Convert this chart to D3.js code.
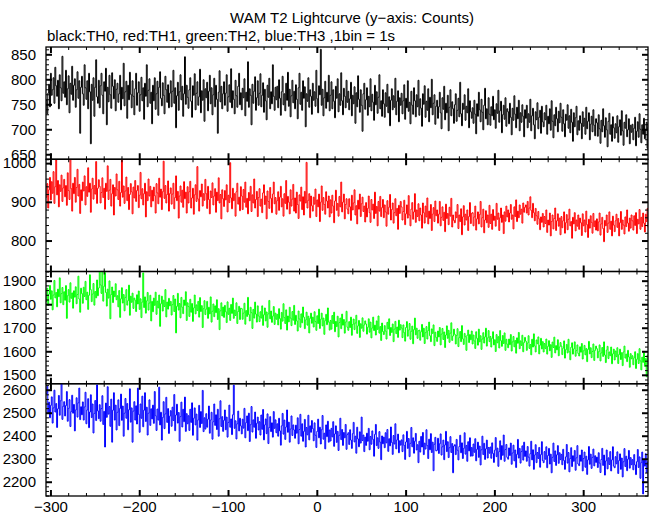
<!DOCTYPE html>
<html>
<head>
<meta charset="utf-8">
<script src="https://cdn.jsdelivr.net/npm/d3@7"></script>
<style>
  html, body { margin: 0; padding: 0; background: #fff; }
  svg { display: block; }
  text { font-family: "Liberation Sans", Arial, Helvetica, sans-serif; }
</style>
</head>
<body>
<svg id="chart" width="652" height="515"></svg>
<script>
// ---------- data ----------
const titleText = "WAM T2 Lightcurve (y\u2212axis: Counts)";
const subtitleText = "black:TH0, red:TH1, green:TH2, blue:TH3 ,1bin = 1s";
const timeStart = -305;   // start of first 1 s bin
const binWidth = 1;
const xDomain = [-305, 373];
const xMajorTicks = [-300, -200, -100, 0, 100, 200, 300];
const xMinorStep = 20;

const seriesNames = ["TH0", "TH1", "TH2", "TH3"];
const seriesColors = ["#000000", "#ff0000", "#00ff00", "#0000ff"];
const yDomains = [[640, 864.6], [720, 1010], [1462, 1939], [2138, 2626]];
const yMajorTicks = [
  [650, 700, 750, 800, 850],
  [800, 900, 1000],
  [1500, 1600, 1700, 1800, 1900],
  [2200, 2300, 2400, 2500, 2600]
];
const yMinorSteps = [10, 20, 20, 20];

const th0 = [
758,731,772,790,745,812,768,779,803,752,824,787,766,798,741,809,783,757,846,772,
795,764,818,749,781,807,733,792,770,826,758,788,801,744,779,815,762,797,692,784,
806,771,748,829,783,760,797,741,812,775,671,790,758,803,726,784,839,765,752,798,
743,787,812,768,731,795,776,822,709,784,755,808,769,742,813,786,761,799,737,780,
792,754,771,808,739,784,761,832,747,775,796,722,788,759,814,770,743,797,766,729,
781,812,748,773,795,736,769,804,757,783,720,792,766,829,745,778,801,752,774,711,
788,757,803,740,771,796,728,784,815,762,747,793,768,731,806,779,754,789,743,772,
797,745,776,818,752,783,703,767,794,738,775,809,759,786,726,771,845,750,788,764,
742,779,803,756,724,787,768,811,739,772,795,748,765,820,733,777,758,799,716,781,
763,794,737,776,808,751,783,729,769,802,745,788,760,692,774,817,755,786,741,771,
795,748,772,809,736,765,789,754,821,743,777,760,731,798,767,744,786,812,749,773,
739,782,763,801,727,774,756,835,744,781,768,709,790,752,776,805,738,763,797,748,
772,811,745,768,793,734,780,757,719,788,764,802,741,775,751,829,766,738,784,759,
786,743,799,762,728,775,806,749,771,737,792,758,814,746,780,725,767,798,753,776,
741,789,760,721,783,812,750,774,738,797,762,785,705,771,756,803,744,779,766,730,
792,758,775,746,818,761,733,787,769,860,748,780,727,763,796,742,774,755,808,737,
768,795,741,779,756,723,786,762,801,735,771,748,813,757,729,782,766,743,798,754,
776,739,761,794,727,768,751,785,712,773,745,807,760,734,779,748,696,771,792,740,
759,783,728,766,745,801,737,770,754,718,788,749,775,732,764,809,741,757,726,779,
751,724,773,746,790,733,765,707,758,781,739,767,744,802,729,756,777,715,763,748,
772,731,757,789,720,762,743,797,736,754,711,776,748,730,783,757,725,769,745,798,
728,761,742,706,771,750,787,724,756,738,781,715,764,743,800,729,752,769,710,746,
758,722,745,774,733,701,763,740,786,719,752,733,768,697,744,779,727,755,741,712,
749,771,716,738,762,725,794,731,707,752,740,769,718,746,733,781,703,757,735,722,
743,712,758,730,691,751,726,774,739,715,760,734,699,748,782,721,741,709,763,730,
708,745,727,766,719,739,702,751,732,778,714,737,756,693,729,748,720,763,706,741,
735,711,752,724,689,742,718,767,730,703,744,721,758,697,733,714,749,726,685,739,
722,748,703,731,714,760,697,727,742,709,681,735,719,753,701,724,738,692,746,715,
705,733,719,748,690,726,711,741,698,757,716,683,729,707,744,721,695,736,713,752,
724,696,739,711,685,730,718,749,702,727,693,740,714,676,733,705,723,746,689,717,
698,727,712,681,735,706,722,690,744,701,716,733,679,710,726,695,739,708,687,721,
713,686,729,701,672,718,695,741,707,684,723,699,665,716,732,690,709,676,725,703,
682,711,693,727,674,705,719,688,737,697,668,714,702,729,685,699,721,671,708,694,
710,679,702,724,667,696,715,684,731,700,673,709,690,722,681,698,714,662,705,689
];

const th1 = [
912,947,884,931,963,905,952,922,978,896,939,1008,918,955,887,944,927,969,901,936,
958,913,942,891,975,929,906,1012,934,876,948,921,963,899,937,984,915,945,870,931,
903,951,928,967,892,939,914,988,925,948,873,933,961,907,942,920,1004,896,935,957,
940,897,924,962,911,935,881,948,927,993,906,930,958,889,921,944,866,937,915,972,
931,906,953,889,924,1015,912,941,896,928,964,903,937,880,919,947,926,869,938,910,
955,901,929,942,885,917,976,908,934,892,921,948,861,926,903,959,915,940,887,930,
902,938,916,871,947,923,895,961,912,933,880,926,1005,909,942,897,919,954,876,921,
936,894,920,948,882,911,967,903,927,858,915,941,899,930,886,952,908,925,871,939,
897,926,953,884,910,935,868,918,944,901,991,907,876,929,913,946,889,921,904,958,
921,883,940,906,869,928,911,949,892,915,934,873,925,903,962,897,919,856,931,908,
888,929,905,944,874,917,898,1001,910,882,935,903,921,863,926,948,894,912,877,939,
915,880,932,899,951,886,909,869,924,903,940,875,918,897,959,884,906,927,862,911,
934,889,907,872,923,944,893,915,856,928,901,883,937,909,872,920,951,895,911,868,
903,926,878,912,940,887,908,863,921,896,955,881,914,899,869,931,889,907,945,876,
910,871,925,893,857,918,902,938,880,913,866,927,897,1002,884,904,921,859,915,890,
876,912,894,933,862,905,887,920,849,899,941,878,911,893,868,926,902,884,915,861,
905,871,917,889,846,902,930,878,896,863,914,887,951,874,899,920,856,893,908,881,
869,908,887,852,917,879,897,931,866,890,843,904,881,920,862,895,912,875,889,848,
898,861,883,915,872,847,906,879,894,857,925,870,888,838,901,876,914,862,885,906,
859,892,874,837,903,868,886,919,853,880,897,845,872,908,864,883,829,891,870,901,
887,853,875,904,841,869,892,858,916,866,838,881,898,855,874,921,847,879,862,895,
851,884,866,832,897,872,845,889,861,910,843,876,857,893,826,868,885,849,902,864,
879,845,868,901,838,860,887,852,873,823,894,857,870,841,886,863,909,835,866,852,
846,874,859,893,831,866,849,882,815,861,890,840,868,853,879,826,862,898,844,870,
872,838,861,889,827,856,874,843,867,901,835,859,881,820,853,877,846,866,834,891,
844,868,829,880,852,863,837,896,855,871,826,859,884,847,866,818,874,850,889,861,
879,848,871,893,855,866,830,887,862,905,849,876,859,892,868,881,845,897,873,886,
892,871,901,866,884,913,878,859,896,872,851,883,864,842,875,856,828,861,847,870,
835,862,844,879,821,853,840,871,812,849,866,830,857,884,826,851,869,837,858,815,
862,833,851,874,819,846,867,828,855,881,838,849,806,860,843,872,825,853,837,866,
829,858,846,813,869,838,853,822,876,841,808,855,832,864,847,819,870,836,851,827,
856,825,848,871,814,843,860,831,797,852,838,866,821,845,874,829,850,812,863,840,
823,851,868,834,857,812,846,875,829,853,840,817,861,836,879,845,824,858,832,866,
851,827,864,839,872,818,855,843,880,829,860,836,871,845,822,868,849,883,834,857
];

const th2 = [
1812,1868,1795,1843,1880,1821,1857,1776,1839,1901,1827,1850,1789,1864,1832,1912,1806,1845,1871,1798,
1853,1817,1879,1740,1836,1862,1809,1891,1825,1848,1783,1857,1830,1874,1802,1841,1919,1822,1766,1868,
1845,1804,1872,1833,1897,1819,1851,1778,1838,1925,1862,1811,1843,1888,1796,1854,1827,1903,1836,1869,
1941,1882,1846,1938,1813,1876,1935,1850,1792,1864,1826,1899,1738,1841,1873,1807,1856,1832,1887,1819,
1836,1789,1858,1744,1823,1870,1805,1841,1772,1829,1862,1796,1815,1881,1753,1834,1808,1847,1782,1826,
1817,1769,1840,1801,1856,1778,1823,1743,1809,1933,1786,1831,1762,1814,1850,1775,1805,1838,1729,1812,
1768,1826,1795,1851,1757,1813,1784,1839,1706,1802,1834,1771,1817,1790,1862,1746,1809,1779,1825,1793,
1812,1754,1798,1837,1769,1822,1678,1791,1846,1775,1803,1742,1829,1787,1760,1818,1795,1853,1731,1806,
1790,1748,1821,1766,1803,1727,1784,1839,1759,1797,1773,1812,1745,1828,1769,1794,1701,1781,1815,1756,
1779,1812,1740,1787,1759,1831,1724,1770,1801,1747,1793,1764,1819,1735,1781,1692,1772,1806,1750,1788,
1744,1795,1768,1722,1810,1757,1783,1731,1799,1761,1826,1740,1775,1752,1806,1718,1769,1791,1735,1783,
1781,1736,1762,1804,1715,1773,1748,1829,1756,1729,1787,1764,1697,1778,1741,1809,1758,1724,1793,1750,
1726,1768,1741,1793,1710,1755,1784,1729,1767,1702,1759,1816,1738,1771,1723,1749,1790,1714,1762,1736,
1757,1712,1781,1739,1694,1765,1728,1802,1743,1718,1776,1690,1750,1725,1787,1741,1709,1769,1732,1795,
1714,1753,1729,1686,1771,1737,1702,1759,1721,1788,1745,1696,1733,1766,1711,1749,1678,1740,1762,1719,
1745,1703,1768,1726,1689,1751,1718,1779,1697,1736,1762,1708,1741,1672,1730,1757,1713,1784,1724,1690,
1731,1694,1752,1718,1766,1683,1727,1705,1749,1661,1722,1741,1696,1758,1711,1735,1677,1724,1770,1702,
1689,1726,1701,1745,1668,1714,1737,1692,1720,1753,1676,1708,1731,1659,1717,1698,1742,1685,1712,1729,
1716,1673,1702,1738,1681,1724,1657,1699,1745,1688,1711,1669,1729,1693,1750,1677,1705,1646,1720,1684,
1671,1709,1686,1652,1723,1695,1738,1667,1701,1680,1716,1641,1694,1727,1675,1703,1659,1732,1690,1713,
1699,1658,1712,1679,1643,1701,1726,1664,1690,1718,1651,1685,1707,1632,1692,1741,1670,1698,1655,1687,
1690,1647,1683,1714,1661,1698,1633,1679,1705,1652,1688,1724,1666,1641,1695,1676,1712,1624,1681,1659,
1642,1686,1661,1701,1627,1673,1697,1650,1682,1616,1669,1708,1655,1689,1638,1677,1721,1646,1665,1694,
1672,1631,1667,1696,1620,1658,1684,1641,1709,1653,1629,1676,1662,1604,1668,1690,1637,1671,1649,1686,
1631,1669,1644,1612,1683,1655,1626,1694,1640,1666,1608,1652,1679,1635,1661,1698,1622,1657,1688,1641,
1663,1618,1655,1683,1627,1649,1599,1671,1636,1662,1614,1688,1645,1621,1667,1633,1678,1604,1651,1630,
1615,1652,1628,1671,1601,1640,1663,1619,1646,1592,1657,1634,1680,1611,1644,1625,1668,1598,1637,1659,
1643,1604,1635,1666,1612,1629,1585,1651,1618,1674,1623,1597,1648,1632,1661,1589,1626,1655,1610,1641,
1597,1633,1611,1652,1588,1621,1645,1602,1628,1574,1639,1616,1660,1593,1624,1606,1649,1581,1618,1637,
1622,1586,1613,1644,1571,1607,1629,1593,1651,1598,1564,1617,1636,1588,1610,1640,1579,1603,1627,1591,
1580,1619,1596,1633,1567,1602,1625,1585,1612,1556,1608,1642,1589,1615,1573,1599,1631,1561,1604,1622,
1611,1572,1598,1627,1559,1593,1616,1578,1640,1584,1552,1605,1621,1569,1597,1581,1618,1547,1589,1609,
1563,1601,1577,1615,1548,1586,1609,1565,1594,1539,1597,1622,1571,1588,1556,1604,1576,1532,1590,1568,
1581,1543,1572,1598,1527,1566,1590,1548,1611,1559,1521,1575,1553,1594,1536,1569,1492,1584,1547,1561
];

const th3 = [
2583,2614,2497,2546,2478,2532,2569,2455,2521,2598,2503,2540,2436,2517,2575,2489,2552,2629,2471,2528,
2548,2486,2531,2592,2463,2519,2557,2440,2505,2576,2498,2536,2421,2512,2565,2481,2543,2607,2470,2526,
2491,2547,2468,2525,2589,2452,2512,2561,2435,2503,2578,2479,2538,2412,2497,2553,2466,2621,2508,2474,
2535,2463,2518,2574,2449,2506,2351,2542,2480,2613,2494,2527,2441,2559,2372,2511,2587,2468,2533,2425,
2502,2556,2444,2519,2581,2467,2529,2398,2498,2562,2476,2540,2426,2513,2604,2459,2521,2372,2507,2548,
2468,2530,2451,2607,2493,2415,2538,2476,2572,2439,2511,2587,2462,2524,2403,2498,2556,2445,2517,2473,
2533,2454,2592,2487,2423,2516,2468,2611,2447,2502,2381,2479,2548,2431,2495,2567,2458,2518,2410,2485,
2509,2441,2524,2466,2579,2422,2490,2537,2455,2501,2376,2483,2546,2438,2515,2461,2568,2419,2496,2452,
2487,2423,2515,2458,2543,2402,2476,2521,2447,2494,2381,2469,2532,2436,2505,2453,2597,2418,2478,2429,
2496,2437,2472,2529,2411,2468,2502,2385,2461,2538,2445,2491,2427,2515,2398,2474,2552,2440,2483,2419,
2467,2512,2426,2481,2394,2458,2533,2437,2473,2405,2491,2620,2432,2465,2386,2452,2507,2421,2476,2443,
2408,2472,2433,2519,2391,2457,2486,2422,2498,2375,2448,2527,2416,2469,2437,2503,2389,2454,2481,2425,
2461,2403,2490,2428,2514,2382,2447,2473,2409,2495,2366,2436,2483,2418,2456,2394,2505,2432,2469,2413,
2452,2398,2476,2421,2359,2443,2497,2407,2468,2384,2438,2512,2415,2459,2372,2429,2486,2401,2447,2425,
2389,2446,2411,2478,2365,2427,2493,2398,2452,2376,2419,2471,2351,2436,2404,2489,2382,2443,2415,2466,
2431,2378,2456,2402,2349,2419,2472,2391,2437,2364,2426,2488,2385,2411,2343,2447,2396,2463,2372,2425,
2377,2432,2395,2461,2354,2408,2443,2371,2419,2336,2402,2476,2383,2427,2358,2414,2391,2449,2341,2405,
2413,2362,2426,2381,2345,2409,2458,2373,2398,2324,2437,2386,2352,2417,2368,2481,2379,2403,2331,2394,
2358,2411,2376,2432,2339,2397,2363,2421,2384,2311,2406,2449,2357,2391,2345,2418,2372,2296,2399,2365,
2394,2348,2413,2369,2427,2332,2387,2356,2438,2371,2319,2401,2364,2452,2343,2382,2407,2326,2378,2359,
2382,2331,2404,2358,2297,2373,2419,2345,2388,2309,2367,2436,2352,2391,2324,2376,2410,2338,2361,2283,
2376,2329,2397,2351,2414,2318,2368,2342,2426,2357,2301,2385,2339,2409,2327,2372,2248,2363,2393,2334,
2337,2389,2323,2365,2408,2316,2352,2381,2296,2360,2419,2331,2374,2305,2348,2396,2327,2366,2239,2355,
2361,2318,2384,2337,2295,2353,2402,2326,2369,2301,2345,2413,2320,2358,2289,2374,2334,2391,2311,2349,
2312,2364,2328,2387,2291,2341,2372,2306,2355,2273,2339,2398,2318,2367,2297,2343,2381,2303,2349,2324,
2351,2302,2369,2323,2284,2337,2392,2309,2346,2267,2331,2378,2296,2357,2315,2403,2289,2340,2362,2306,
2298,2347,2314,2368,2276,2325,2359,2291,2338,2262,2319,2384,2303,2345,2281,2331,2356,2294,2372,2310,
2334,2289,2353,2307,2268,2322,2376,2295,2339,2254,2316,2361,2283,2327,2301,2349,2263,2318,2374,2292,
2283,2331,2298,2352,2261,2314,2345,2277,2320,2239,2306,2368,2288,2334,2271,2317,2357,2280,2326,2296,
2319,2274,2341,2292,2254,2308,2362,2281,2327,2243,2301,2348,2266,2313,2289,2336,2250,2304,2357,2277,
2270,2316,2289,2338,2247,2301,2329,2263,2311,2232,2295,2353,2276,2320,2258,2306,2342,2269,2313,2284,
2307,2262,2326,2281,2240,2297,2345,2271,2316,2229,2290,2338,2256,2304,2275,2331,2247,2295,2352,2268,
2261,2309,2278,2330,2236,2292,2321,2254,2303,2221,2287,2344,2266,2311,2248,2298,2336,2259,2305,2274,
2296,2252,2318,2273,2231,2287,2340,2262,2308,2215,2283,2329,2147,2294,2268,2322,2240,2286,2201,2264
];

const seriesValues = [th0, th1, th2, th3];

// ---------- layout ----------
const W = 652, H = 515;
const plotLeft = 46, plotRight = 648;
const panelTop0 = 47, panelH = 112.25;
const fontSize = 15;

const svg = d3.select("#chart");
svg.append("rect").attr("width", W).attr("height", H).attr("fill", "#fff");

const x = d3.scaleLinear().domain(xDomain).range([plotLeft, plotRight]);
const xMinorTicks = d3.range(-300, 373, xMinorStep).filter(t => !xMajorTicks.includes(t));

svg.append("text").attr("x", 352).attr("y", 23).attr("text-anchor", "middle")
  .attr("font-size", fontSize).text(titleText);
svg.append("text").attr("x", 47).attr("y", 41).attr("text-anchor", "start")
  .attr("font-size", fontSize).text(subtitleText);

seriesValues.forEach((vals, k) => {
  const top = panelTop0 + k * panelH;
  const bot = top + panelH;
  const y = d3.scaleLinear().domain(yDomains[k]).range([bot, top]);
  const g = svg.append("g");

  const clipId = "clip" + k;
  svg.append("clipPath").attr("id", clipId).append("rect")
    .attr("x", plotLeft).attr("y", top).attr("width", plotRight - plotLeft).attr("height", panelH);

  const pts = vals.map((v, i) => [timeStart + i * binWidth, v]);
  pts.push([timeStart + vals.length * binWidth, vals[vals.length - 1]]);
  const line = d3.line().x(d => x(d[0])).y(d => y(d[1])).curve(d3.curveStepAfter);
  g.append("path").attr("d", line(pts)).attr("fill", "none")
    .attr("stroke", seriesColors[k]).attr("stroke-width", 1)
    .attr("clip-path", `url(#${clipId})`);

  // frame
  g.append("rect").attr("x", plotLeft).attr("y", top).attr("width", plotRight - plotLeft)
    .attr("height", panelH).attr("fill", "none").attr("stroke", "#000").attr("stroke-width", 1.3);

  // y axes (left labeled, right mirror)
  const [d0, d1] = yDomains[k];
  const yMinor = d3.range(Math.ceil(d0 / yMinorSteps[k]) * yMinorSteps[k], d1, yMinorSteps[k])
    .filter(v => !yMajorTicks[k].includes(v));

  const left = g.append("g").attr("transform", `translate(${plotLeft},0)`)
    .call(d3.axisLeft(y).tickValues(yMajorTicks[k]).tickSize(-6).tickPadding(10).tickFormat(d3.format("d")));
  left.select(".domain").remove();
  left.selectAll("line").attr("stroke-width", 2);
  left.selectAll("text").attr("font-size", fontSize).attr("font-family", null).attr("fill", "#000");
  const leftMinor = g.append("g").attr("transform", `translate(${plotLeft},0)`)
    .call(d3.axisLeft(y).tickValues(yMinor).tickSize(-3).tickFormat(""));
  leftMinor.select(".domain").remove();

  const right = g.append("g").attr("transform", `translate(${plotRight},0)`)
    .call(d3.axisRight(y).tickValues(yMajorTicks[k]).tickSize(-6).tickFormat(""));
  right.select(".domain").remove();
  right.selectAll("line").attr("stroke-width", 2);
  const rightMinor = g.append("g").attr("transform", `translate(${plotRight},0)`)
    .call(d3.axisRight(y).tickValues(yMinor).tickSize(-3).tickFormat(""));
  rightMinor.select(".domain").remove();

  // x ticks top and bottom of each panel
  const topAx = g.append("g").attr("transform", `translate(0,${top})`)
    .call(d3.axisTop(x).tickValues(xMajorTicks).tickSize(-6).tickFormat(""));
  topAx.select(".domain").remove();
  topAx.selectAll("line").attr("stroke-width", 2);
  const topMin = g.append("g").attr("transform", `translate(0,${top})`)
    .call(d3.axisTop(x).tickValues(xMinorTicks).tickSize(-3).tickFormat(""));
  topMin.select(".domain").remove();

  const isLast = k === seriesValues.length - 1;
  const botAx = g.append("g").attr("transform", `translate(0,${bot})`)
    .call(d3.axisBottom(x).tickValues(xMajorTicks).tickSize(-6).tickPadding(5)
      .tickFormat(isLast ? d3.format("d") : ""));
  botAx.select(".domain").remove();
  botAx.selectAll("line").attr("stroke-width", 2);
  botAx.selectAll("text").attr("font-size", fontSize).attr("font-family", null).attr("fill", "#000");
  const botMin = g.append("g").attr("transform", `translate(0,${bot})`)
    .call(d3.axisBottom(x).tickValues(xMinorTicks).tickSize(-3).tickFormat(""));
  botMin.select(".domain").remove();
});
</script>
</body>
</html>
